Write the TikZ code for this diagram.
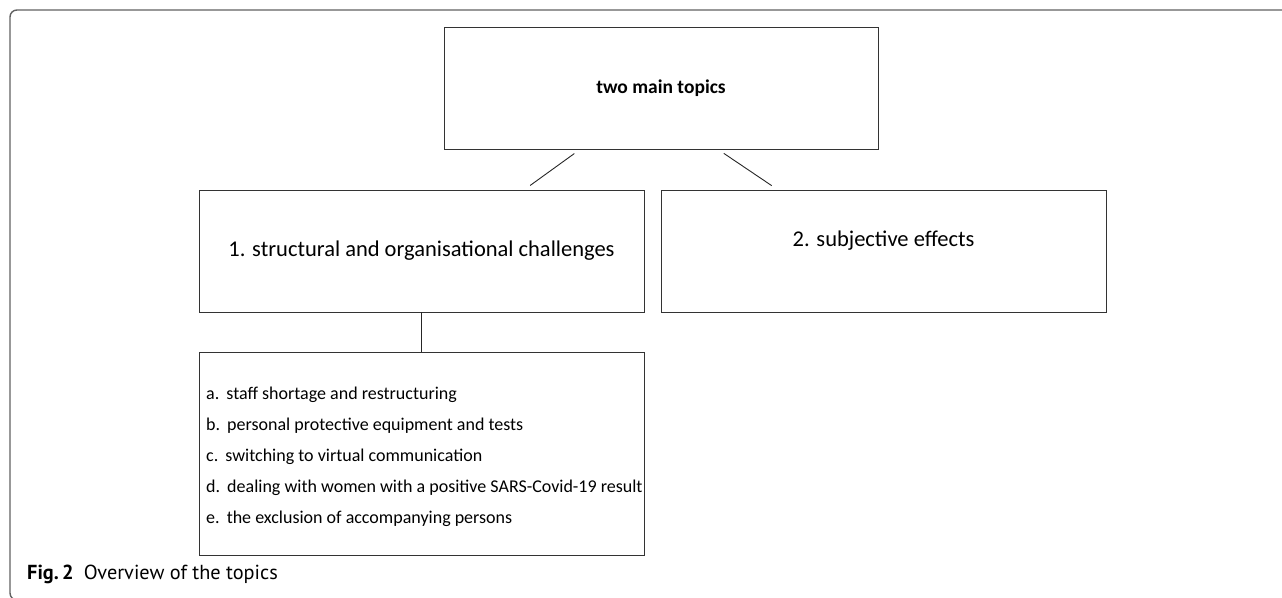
\documentclass[tikz,border=0pt]{standalone}
\usepackage{fontspec}
\setmainfont{Carlito}
\newfontfamily\capfont{PT Sans}
\usetikzlibrary{positioning}

\tikzset{
  topicbox/.style={draw=black!80, line width=0.9pt, rectangle, inner sep=0pt,
    minimum width=445pt, minimum height=122pt},
  twig/.style={draw=black!85, line width=0.9pt, shorten <=7pt, shorten >=7pt}
}

\begin{document}
\begin{tikzpicture}[x=1pt, y=-1pt]
  \useasboundingbox (0,0) rectangle (1282,597);
  \clip (0,0) rectangle (1282,597);
  % frame
  \draw[black!62, line width=1.4pt, rounded corners=7pt]
    (1300,600) -- (10,600) -- (10,10) -- (1300,10);

  \node[topicbox, minimum width=434pt, font=\fontsize{19.5}{23}\selectfont\bfseries]
    (top) at (661,88) {two main topics};
  \node[topicbox, font=\fontsize{22.5}{27}\selectfont] (sc) at (421.5,251)
    {1. structural and organisational challenges};
  \node[topicbox] (se) at (883.5,251) {};
  \node[font=\fontsize{22.5}{27}\selectfont] (setext) at (883.5,241)
    {2. subjective effects};
  \node[topicbox, minimum height=203pt] (list) at (421.5,453.5) {};
  \node[anchor=west, inner sep=0pt, align=left,
    font=\frenchspacing\fontsize{18}{31}\selectfont] (items) at (206,456.5)
    {a.\, staff shortage and restructuring\\
     b.\, personal protective equipment and tests\\
     c.\, switching to virtual communication\\
     d.\, dealing with women with a positive SARS-Covid-19 result\\
     e.\, the exclusion of accompanying persons};

  \draw[twig] ([xshift=-81pt]top.south) -- ([xshift=103pt]sc.north);
  \draw[twig] ([xshift=57pt]top.south) -- ([xshift=-106pt]se.north);
  \draw[draw=black!85, line width=0.9pt] (sc.south) -- (list.north);

  \node[anchor=west, inner sep=0pt, font=\capfont\fontsize{20.3}{24}\selectfont]
    (cap) at (27,574) {\textbf{Fig.\,2}\enspace Overview of the topics};
\end{tikzpicture}
\end{document}
